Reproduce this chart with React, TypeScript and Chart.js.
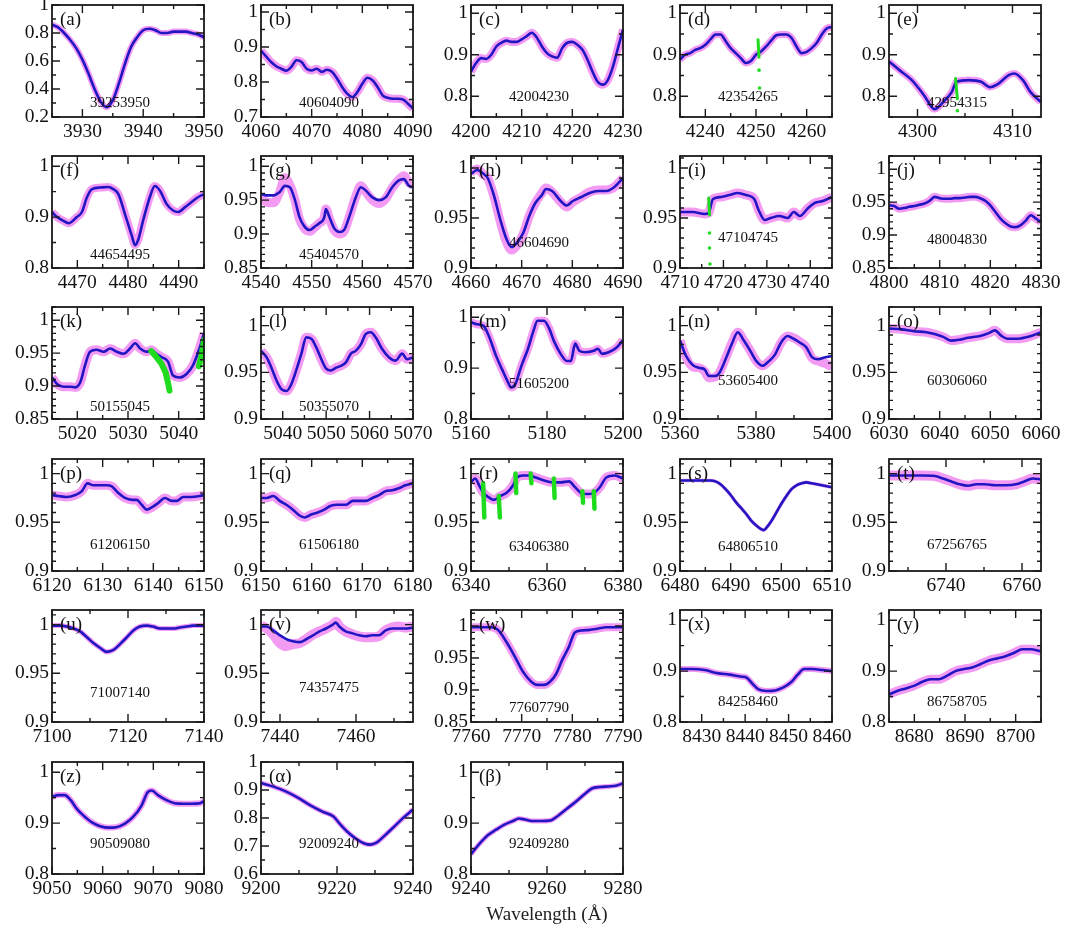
import React, { useEffect, useRef } from 'react';
import { Chart, registerables } from 'chart.js';

Chart.register(...registerables);

// ---------------- data (wavelength in Å, normalised flux) ----------------
const wlA = [3925, 3926, 3927, 3928, 3929, 3930, 3931, 3932, 3933, 3934, 3935, 3936, 3937, 3938, 3939, 3940, 3941, 3942, 3943, 3944, 3945, 3946, 3947, 3948, 3949, 3950];
const fluxA = [0.86, 0.84, 0.8, 0.75, 0.69, 0.61, 0.51, 0.4, 0.31, 0.27, 0.32, 0.44, 0.58, 0.7, 0.77, 0.82, 0.83, 0.82, 0.8, 0.8, 0.81, 0.81, 0.81, 0.8, 0.79, 0.77];

const wlB = [4060, 4061, 4062, 4063, 4064, 4065, 4066, 4067, 4068, 4069, 4070, 4071, 4072, 4073, 4074, 4075, 4076, 4077, 4078, 4079, 4080, 4081, 4082, 4083, 4084, 4085, 4086, 4087, 4088, 4089, 4090];
const fluxB = [0.89, 0.873, 0.857, 0.845, 0.838, 0.832, 0.843, 0.862, 0.857, 0.838, 0.833, 0.838, 0.829, 0.835, 0.829, 0.81, 0.786, 0.767, 0.757, 0.771, 0.795, 0.812, 0.805, 0.786, 0.762, 0.755, 0.752, 0.752, 0.75, 0.738, 0.724];

const wlC = [4200, 4201, 4202, 4203, 4204, 4205, 4206, 4207, 4208, 4209, 4210, 4211, 4212, 4213, 4214, 4215, 4216, 4217, 4218, 4219, 4220, 4221, 4222, 4223, 4224, 4225, 4226, 4227, 4228, 4229, 4230];
const fluxC = [0.859, 0.88, 0.892, 0.89, 0.9, 0.92, 0.929, 0.934, 0.931, 0.931, 0.937, 0.945, 0.953, 0.941, 0.92, 0.904, 0.896, 0.893, 0.916, 0.929, 0.931, 0.924, 0.912, 0.888, 0.859, 0.835, 0.828, 0.839, 0.871, 0.916, 0.961];

const wlD = [4235, 4236, 4237, 4238, 4239, 4240, 4241, 4242, 4243, 4244, 4245, 4246, 4247, 4248, 4249, 4250, 4251, 4252, 4253, 4254, 4255, 4256, 4257, 4258, 4259, 4260, 4261, 4262, 4263, 4264, 4265];
const fluxD = [0.888, 0.9, 0.904, 0.912, 0.916, 0.924, 0.937, 0.949, 0.949, 0.933, 0.916, 0.904, 0.892, 0.88, 0.885, 0.9, 0.908, 0.92, 0.934, 0.947, 0.949, 0.949, 0.941, 0.92, 0.904, 0.907, 0.916, 0.929, 0.949, 0.964, 0.967];
const maskSegXD = [4250.4, 4250.6];
const maskSegYD = [0.936, 0.894];
const maskDotXD = [4250.6, 4250.7];
const maskDotYD = [0.863, 0.82];

const wlE = [4297, 4298.1, 4299.4, 4300.7, 4301.8, 4302.7, 4303.6, 4304.1, 4305.4, 4306.7, 4307.6, 4308.5, 4309.6, 4310.2, 4311.1, 4311.9, 4313];
const fluxE = [0.884, 0.863, 0.839, 0.802, 0.769, 0.786, 0.81, 0.835, 0.839, 0.835, 0.822, 0.83, 0.851, 0.855, 0.839, 0.81, 0.786];
const maskSegXE = [4304.0, 4304.2];
const maskSegYE = [0.843, 0.794];
const maskDotXE = [4304.2];
const maskDotYE = [0.765];

const wlF = [4465, 4466, 4467, 4468.3, 4469.9, 4470.9, 4471.9, 4472.9, 4474.5, 4476.1, 4477.1, 4478.1, 4479.4, 4480.7, 4481.4, 4482, 4483, 4484.3, 4485.3, 4486.3, 4487.6, 4488.9, 4489.9, 4491.2, 4492.5, 4493.8, 4495];
const fluxF = [0.91, 0.9, 0.894, 0.888, 0.9, 0.91, 0.939, 0.955, 0.958, 0.959, 0.955, 0.945, 0.906, 0.865, 0.845, 0.855, 0.894, 0.939, 0.961, 0.952, 0.926, 0.913, 0.91, 0.919, 0.929, 0.939, 0.945];

const wlG = [4540, 4541.1, 4542.4, 4543.7, 4544.7, 4545.7, 4546.7, 4547.6, 4548.6, 4549.6, 4550.6, 4551.5, 4552.5, 4552.8, 4553.5, 4554.5, 4555.5, 4556.4, 4557.4, 4558.7, 4559.7, 4560.7, 4562, 4563.3, 4564.6, 4565.9, 4567.2, 4568.2, 4569.2, 4570];
const fluxG = [0.959, 0.957, 0.957, 0.962, 0.971, 0.969, 0.95, 0.925, 0.911, 0.906, 0.911, 0.916, 0.925, 0.937, 0.925, 0.908, 0.903, 0.906, 0.925, 0.954, 0.969, 0.964, 0.954, 0.95, 0.954, 0.969, 0.979, 0.981, 0.971, 0.969];
const obsG = [0.955, 0.947, 0.946, 0.962, 0.983, 0.972, 0.95, 0.922, 0.908, 0.904, 0.91, 0.916, 0.925, 0.937, 0.923, 0.905, 0.9, 0.904, 0.925, 0.955, 0.971, 0.962, 0.95, 0.945, 0.952, 0.968, 0.98, 0.986, 0.976, 0.972];

const wlH = [4660, 4661.2, 4662.5, 4663.3, 4664.5, 4665.8, 4667, 4668, 4669, 4670.3, 4671.5, 4672.7, 4674, 4674.8, 4676, 4677.7, 4678.9, 4680.1, 4681.8, 4683.4, 4685.1, 4686.7, 4688.3, 4690];
const fluxH = [0.994, 0.998, 0.994, 0.99, 0.973, 0.948, 0.929, 0.921, 0.925, 0.935, 0.952, 0.965, 0.973, 0.979, 0.977, 0.967, 0.9625, 0.967, 0.971, 0.975, 0.977, 0.977, 0.981, 0.99];
const obsH = [0.996, 0.999, 0.993, 0.99, 0.972, 0.946, 0.926, 0.918, 0.922, 0.934, 0.952, 0.965, 0.975, 0.98, 0.976, 0.966, 0.961, 0.966, 0.971, 0.976, 0.978, 0.978, 0.981, 0.99];

const wlI = [4710, 4712.9, 4715.7, 4716.6, 4717.6, 4719.5, 4721.4, 4723.3, 4725.2, 4727.1, 4728.1, 4729.5, 4730.9, 4732.9, 4734.8, 4736.2, 4737.6, 4739.5, 4741, 4742.9, 4745];
const fluxI = [0.956, 0.956, 0.954, 0.955, 0.969, 0.971, 0.973, 0.975, 0.973, 0.969, 0.958, 0.948, 0.95, 0.952, 0.95, 0.956, 0.952, 0.96, 0.965, 0.967, 0.971];
const maskSegXI = [4716.6, 4716.8];
const maskSegYI = [0.97, 0.953];
const maskDotXI = [4716.8, 4716.8, 4716.9];
const maskDotYI = [0.935, 0.92, 0.904];

const wlJ = [4800, 4801, 4802, 4803, 4804, 4805, 4806, 4807, 4808, 4809, 4810, 4811, 4812, 4813, 4814, 4815, 4816, 4817, 4818, 4819, 4820, 4821, 4822, 4823, 4824, 4825, 4826, 4827, 4828, 4829, 4830];
const fluxJ = [0.945, 0.944, 0.94, 0.941, 0.943, 0.944, 0.946, 0.948, 0.952, 0.958, 0.956, 0.955, 0.955, 0.956, 0.956, 0.957, 0.958, 0.958, 0.956, 0.952, 0.945, 0.935, 0.925, 0.918, 0.913, 0.912, 0.915, 0.922, 0.93, 0.925, 0.92];

const wlK = [5015, 5016, 5017.3, 5018.6, 5019.6, 5020.6, 5021.5, 5022.5, 5023.8, 5025.2, 5026.5, 5027.8, 5029.1, 5030.4, 5031.4, 5032.4, 5033.7, 5034.6, 5035.6, 5036.6, 5037.9, 5038.9, 5040.2, 5041.5, 5042.8, 5044.1, 5045];
const fluxK = [0.913, 0.903, 0.899, 0.899, 0.898, 0.906, 0.931, 0.952, 0.955, 0.952, 0.957, 0.952, 0.949, 0.957, 0.965, 0.957, 0.952, 0.955, 0.949, 0.944, 0.937, 0.916, 0.913, 0.918, 0.931, 0.957, 0.98];
const maskSegXK = [5034.6, 5035.6, 5035.6, 5036.6, 5036.6, 5037.4, 5037.4, 5037.9, 5037.9, 5038.2, 5044.0, 5044.6, 5044.6, 5045.0];
const maskSegYK = [0.953, 0.944, 0.944, 0.934, 0.934, 0.921, 0.921, 0.905, 0.905, 0.893, 0.93, 0.95, 0.95, 0.97];

const wlL = [5035, 5036.3, 5037.4, 5038.6, 5039.7, 5040.9, 5042, 5043.1, 5044.3, 5045.4, 5046.6, 5047.7, 5048.9, 5050, 5051.1, 5052.3, 5053.4, 5054.6, 5055.7, 5056.8, 5058, 5059.1, 5060.3, 5061.4, 5062.9, 5064.5, 5066, 5067.5, 5068.6, 5070];
const fluxL = [0.973, 0.966, 0.955, 0.941, 0.932, 0.93, 0.9375, 0.952, 0.97, 0.9875, 0.986, 0.977, 0.964, 0.954, 0.952, 0.955, 0.957, 0.961, 0.97, 0.973, 0.98, 0.991, 0.993, 0.9875, 0.975, 0.966, 0.9625, 0.97, 0.964, 0.966];

const wlM = [5160, 5161.6, 5163.3, 5164.9, 5166.6, 5168.2, 5169.5, 5170.6, 5171.7, 5173.2, 5175, 5176.4, 5177.5, 5179.2, 5180.5, 5181.9, 5183.6, 5185.2, 5186.3, 5187.4, 5188.5, 5190.1, 5192.3, 5193.4, 5194.5, 5196.2, 5198.4, 5200];
const fluxM = [0.99, 0.986, 0.983, 0.959, 0.924, 0.897, 0.876, 0.862, 0.869, 0.903, 0.938, 0.972, 0.993, 0.993, 0.979, 0.952, 0.928, 0.914, 0.914, 0.948, 0.934, 0.931, 0.934, 0.938, 0.928, 0.931, 0.941, 0.955];

const wlN = [5360, 5361.6, 5363.3, 5364.9, 5366.5, 5367.6, 5369.2, 5370.3, 5372, 5373.6, 5375.2, 5376.8, 5378.5, 5380.1, 5381.7, 5383.4, 5385, 5386.6, 5388.3, 5389.9, 5391.5, 5393.2, 5394.8, 5396.4, 5398, 5400];
const fluxN = [0.984, 0.9675, 0.958, 0.955, 0.953, 0.946, 0.946, 0.949, 0.964, 0.98, 0.993, 0.984, 0.973, 0.962, 0.957, 0.962, 0.969, 0.982, 0.989, 0.986, 0.982, 0.977, 0.966, 0.964, 0.966, 0.9675];
const obsN = [0.984, 0.966, 0.956, 0.955, 0.951, 0.944, 0.945, 0.949, 0.965, 0.981, 0.993, 0.984, 0.973, 0.962, 0.957, 0.962, 0.969, 0.982, 0.989, 0.987, 0.983, 0.977, 0.965, 0.962, 0.96, 0.956];

const wlO = [6030, 6032.5, 6034.9, 6037.4, 6039, 6040.7, 6042.3, 6043.9, 6045.6, 6048, 6049.7, 6050.9, 6052.2, 6053.4, 6055.5, 6057.5, 6060];
const fluxO = [0.997, 0.996, 0.994, 0.993, 0.991, 0.988, 0.984, 0.985, 0.987, 0.989, 0.992, 0.995, 0.989, 0.986, 0.986, 0.988, 0.993];

const wlP = [6120, 6121.3, 6122.9, 6124.6, 6125.9, 6127, 6128.2, 6129.5, 6130.8, 6131.8, 6133.1, 6134.4, 6135.8, 6136.7, 6137.7, 6138.7, 6139.6, 6141, 6142.3, 6143.6, 6144.6, 6145.9, 6147.5, 6149.1, 6150];
const fluxP = [0.978, 0.977, 0.976, 0.978, 0.982, 0.99, 0.988, 0.988, 0.988, 0.987, 0.98, 0.975, 0.973, 0.973, 0.968, 0.963, 0.965, 0.97, 0.975, 0.972, 0.972, 0.976, 0.976, 0.977, 0.978];

const wlQ = [6150, 6151.1, 6152.4, 6153.7, 6155, 6156.3, 6157.6, 6158.6, 6159.9, 6161.2, 6162.5, 6163.8, 6165.1, 6166.8, 6168.1, 6169.4, 6170.7, 6172, 6173.3, 6174.6, 6175.9, 6177.2, 6178.5, 6180];
const fluxQ = [0.975, 0.975, 0.977, 0.972, 0.968, 0.963, 0.957, 0.955, 0.958, 0.96, 0.963, 0.967, 0.968, 0.968, 0.972, 0.972, 0.972, 0.975, 0.978, 0.982, 0.983, 0.985, 0.988, 0.99];

const wlR = [6340, 6341.1, 6342.2, 6343.3, 6344.9, 6346, 6347.7, 6349.3, 6351, 6352.1, 6353.7, 6355.3, 6357, 6359.2, 6361.4, 6363.6, 6365.8, 6367.4, 6369, 6370.7, 6372.3, 6373.9, 6375.6, 6377.8, 6380];
const fluxR = [0.991, 0.995, 0.9875, 0.98, 0.975, 0.973, 0.977, 0.98, 0.9875, 0.996, 0.998, 0.998, 0.996, 0.993, 0.991, 0.991, 0.992, 0.986, 0.98, 0.979, 0.98, 0.986, 0.996, 0.998, 0.995];
const maskSegXR = [6343.2, 6343.5, 6347.3, 6347.6, 6351.7, 6351.9, 6355.7, 6355.9, 6361.8, 6362.0, 6369.3, 6369.5, 6372.3, 6372.5];
const maskSegYR = [0.99, 0.955, 0.977, 0.955, 1.0, 0.98, 1.0, 0.99, 0.995, 0.975, 0.982, 0.97, 0.982, 0.964];

const wlS = [6480, 6482, 6484, 6486, 6487, 6488, 6489, 6490, 6491, 6492, 6493, 6494, 6495, 6496, 6496.5, 6497, 6498, 6499, 6500, 6501, 6502, 6503, 6504, 6505, 6506, 6507, 6508, 6509, 6510];
const fluxS = [0.993, 0.993, 0.993, 0.993, 0.992, 0.989, 0.984, 0.978, 0.971, 0.965, 0.959, 0.952, 0.947, 0.943, 0.942, 0.944, 0.951, 0.96, 0.969, 0.977, 0.984, 0.988, 0.99, 0.991, 0.99, 0.989, 0.988, 0.987, 0.986];

const wlT = [6725, 6729.4, 6733.8, 6737.1, 6739.2, 6741.4, 6743.6, 6745.8, 6748, 6750.2, 6752.9, 6755.7, 6758.4, 6760.6, 6762.8, 6765];
const fluxT = [0.998, 0.998, 0.998, 0.9975, 0.995, 0.992, 0.989, 0.9875, 0.989, 0.989, 0.988, 0.988, 0.989, 0.992, 0.995, 0.994];

const wlU = [7100, 7102.2, 7103.9, 7105.7, 7107.4, 7109.2, 7110.9, 7112.7, 7114.4, 7116.2, 7117.9, 7119.7, 7121.4, 7123.1, 7124.9, 7126.6, 7128.4, 7130.1, 7131.9, 7133.6, 7135.4, 7137.1, 7140];
const fluxU = [0.999, 0.999, 0.998, 0.996, 0.993, 0.987, 0.981, 0.976, 0.972, 0.974, 0.98, 0.987, 0.994, 0.998, 0.999, 0.998, 0.996, 0.996, 0.996, 0.997, 0.998, 0.999, 0.999];

const wlV = [7435, 7436.5, 7438.2, 7440, 7441.7, 7443.4, 7445.2, 7446.9, 7448.7, 7450.4, 7452.1, 7453.9, 7454.7, 7455.6, 7457.3, 7459.1, 7460.8, 7462.6, 7464.3, 7466, 7467.8, 7469.5, 7471.3, 7473, 7475];
const fluxV = [0.998, 0.998, 0.994, 0.989, 0.985, 0.983, 0.982, 0.985, 0.989, 0.993, 0.996, 1.0, 1.002, 0.998, 0.993, 0.991, 0.989, 0.988, 0.989, 0.989, 0.994, 0.996, 0.996, 0.996, 0.997];
const obsV = [0.999, 0.996, 0.99, 0.981, 0.978, 0.98, 0.981, 0.985, 0.99, 0.993, 0.996, 1.0, 1.003, 0.998, 0.993, 0.99, 0.988, 0.987, 0.987, 0.988, 0.994, 0.997, 0.998, 0.997, 0.998];

const wlW = [7760, 7762, 7764, 7765.3, 7767, 7768.6, 7770.3, 7771.9, 7773.1, 7774.4, 7775.6, 7776.8, 7778, 7779.3, 7780.5, 7781.8, 7783.4, 7785.1, 7786.7, 7788.3, 7790];
const fluxW = [0.998, 0.998, 0.998, 0.994, 0.975, 0.953, 0.928, 0.913, 0.908, 0.908, 0.913, 0.925, 0.947, 0.967, 0.99, 0.993, 0.994, 0.996, 0.998, 0.998, 0.998];

const wlX = [8425, 8427.9, 8430.7, 8433.6, 8436.4, 8439.3, 8440.2, 8441.7, 8443.1, 8445, 8446.9, 8448.8, 8450.7, 8452.1, 8453.6, 8455.5, 8457.9, 8460];
const fluxX = [0.904, 0.904, 0.902, 0.896, 0.893, 0.889, 0.888, 0.875, 0.864, 0.861, 0.862, 0.868, 0.879, 0.893, 0.904, 0.904, 0.902, 0.9];

const wlY = [8675, 8676.6, 8678.3, 8679.9, 8681.6, 8683.2, 8684.9, 8686.5, 8688.1, 8689.8, 8691.4, 8693.1, 8694.7, 8696.4, 8698, 8699.7, 8701.3, 8702.9, 8705];
const fluxY = [0.854, 0.861, 0.866, 0.871, 0.879, 0.884, 0.884, 0.891, 0.9, 0.904, 0.907, 0.914, 0.921, 0.925, 0.929, 0.936, 0.943, 0.943, 0.939];

const wlZ = [9050, 9051.2, 9052.5, 9053.7, 9054.9, 9056.2, 9057.8, 9059.5, 9061.1, 9062.7, 9064.4, 9066, 9067.7, 9068.9, 9069.7, 9070.9, 9072.6, 9074.2, 9075.9, 9077.5, 9079.2, 9080];
const fluxZ = [0.951, 0.955, 0.955, 0.945, 0.928, 0.915, 0.902, 0.894, 0.891, 0.892, 0.899, 0.912, 0.935, 0.961, 0.964, 0.955, 0.945, 0.939, 0.938, 0.938, 0.939, 0.943];

const wlAlpha = [9200, 9203.3, 9206.5, 9209.8, 9213, 9216.3, 9219, 9220.7, 9222.8, 9225, 9227.2, 9228.8, 9230.4, 9232.6, 9234.8, 9237, 9240];
const fluxAlpha = [0.925, 0.912, 0.895, 0.872, 0.845, 0.822, 0.806, 0.78, 0.75, 0.726, 0.709, 0.705, 0.712, 0.738, 0.766, 0.795, 0.83];

const wlBeta = [9240, 9242.2, 9244.4, 9246.6, 9248.8, 9251, 9252.6, 9254.2, 9256.4, 9258.6, 9260.8, 9263, 9265.2, 9267.4, 9269.6, 9271.8, 9274, 9276.2, 9278.4, 9280];
const fluxBeta = [0.839, 0.859, 0.876, 0.887, 0.897, 0.904, 0.909, 0.907, 0.904, 0.904, 0.905, 0.915, 0.928, 0.941, 0.955, 0.968, 0.971, 0.972, 0.974, 0.978];

// tick label values
const ticksXa = [3930, 3940, 3950];
const ticksXb = [4060, 4070, 4080, 4090];
const ticksXc = [4200, 4210, 4220, 4230];
const ticksXd = [4240, 4250, 4260];
const ticksXe = [4300, 4310];
const ticksXf = [4470, 4480, 4490];
const ticksXg = [4540, 4550, 4560, 4570];
const ticksXh = [4660, 4670, 4680, 4690];
const ticksXi = [4710, 4720, 4730, 4740];
const ticksXj = [4800, 4810, 4820, 4830];
const ticksXk = [5020, 5030, 5040];
const ticksXl = [5040, 5050, 5060, 5070];
const ticksXm = [5160, 5180, 5200];
const ticksXn = [5360, 5380, 5400];
const ticksXo = [6030, 6040, 6050, 6060];
const ticksXp = [6120, 6130, 6140, 6150];
const ticksXq = [6150, 6160, 6170, 6180];
const ticksXr = [6340, 6360, 6380];
const ticksXs = [6480, 6490, 6500, 6510];
const ticksXt = [6740, 6760];
const ticksXu = [7100, 7120, 7140];
const ticksXv = [7440, 7460];
const ticksXw = [7760, 7770, 7780, 7790];
const ticksXx = [8430, 8440, 8450, 8460];
const ticksXy = [8680, 8690, 8700];
const ticksXz = [9050, 9060, 9070, 9080];
const ticksXalpha = [9200, 9220, 9240];
const ticksXbeta = [9240, 9260, 9280];

const ticksY02 = [0.2, 0.4, 0.6, 0.8, 1];
const ticksY07 = [0.7, 0.8, 0.9, 1];
const ticksY08 = [0.8, 0.9, 1];
const ticksY085 = [0.85, 0.9, 0.95, 1];
const ticksY09 = [0.9, 0.95, 1];
const ticksY06 = [0.6, 0.7, 0.8, 0.9, 1];

const panelTags = ['(a)', '(b)', '(c)', '(d)', '(e)', '(f)', '(g)', '(h)', '(i)', '(j)', '(k)', '(l)', '(m)', '(n)', '(o)', '(p)', '(q)', '(r)', '(s)', '(t)', '(u)', '(v)', '(w)', '(x)', '(y)', '(z)', '(α)', '(β)'];
const rangeNames = ['39253950', '40604090', '42004230', '42354265', '42954315', '44654495', '45404570', '46604690', '47104745', '48004830', '50155045', '50355070', '51605200', '53605400', '60306060', '61206150', '61506180', '63406380', '64806510', '67256765', '71007140', '74357475', '77607790', '84258460', '86758705', '90509080', '92009240', '92409280'];

// ---------------- layout / style ----------------
const COL_X = [52, 261, 471, 680, 889];
const ROW_Y = [5, 156, 307, 459, 610, 762];
const PW = 152;
const PH = 112;
const PAD_L = 62;
const PAD_R = 28;
const PAD_T = 14;
const PAD_B = 34;
const FONT = '"Liberation Serif", "Times New Roman", serif';
const BLUE = '#2216c2';
const MAGENTA = 'rgba(238,108,238,0.68)';
const GREEN = '#1fdc1f';
const FRAME = '#1a1a1a';

interface Panel {
  wl: number[]; flux: number[]; obs?: number[];
  x: [number, number]; y: [number, number];
  xt: number[]; yt: number[]; xm: number; ym: number;
  band: number; dy: number;
  gx?: number[]; gy?: number[]; gw?: number;
  dx?: number[]; dyy?: number[];
  title?: string;
}

const PANELS: Panel[] = [
  { wl: wlA, flux: fluxA, x: [3925, 3950], y: [0.2, 1.0], xt: ticksXa, yt: ticksY02, xm: 5, ym: 0.1, band: 6, dy: 98 },
  { wl: wlB, flux: fluxB, x: [4060, 4090], y: [0.7, 1.02], xt: ticksXb, yt: ticksY07, xm: 5, ym: 0.05, band: 8, dy: 98 },
  { wl: wlC, flux: fluxC, x: [4200, 4230], y: [0.75, 1.02], xt: ticksXc, yt: ticksY08, xm: 5, ym: 0.05, band: 8, dy: 92 },
  { wl: wlD, flux: fluxD, x: [4235, 4265], y: [0.75, 1.02], xt: ticksXd, yt: ticksY08, xm: 5, ym: 0.05, band: 7, dy: 92, gx: maskSegXD, gy: maskSegYD, gw: 3, dx: maskDotXD, dyy: maskDotYD },
  { wl: wlE, flux: fluxE, x: [4297, 4313], y: [0.75, 1.02], xt: ticksXe, yt: ticksY08, xm: 5, ym: 0.05, band: 7, dy: 98, gx: maskSegXE, gy: maskSegYE, gw: 3, dx: maskDotXE, dyy: maskDotYE },
  { wl: wlF, flux: fluxF, x: [4465, 4495], y: [0.8, 1.02], xt: ticksXf, yt: ticksY08, xm: 5, ym: 0.05, band: 8, dy: 99 },
  { wl: wlG, flux: fluxG, obs: obsG, x: [4540, 4570], y: [0.85, 1.015], xt: ticksXg, yt: ticksY085, xm: 5, ym: 0.01, band: 9, dy: 99 },
  { wl: wlH, flux: fluxH, obs: obsH, x: [4660, 4690], y: [0.9, 1.012], xt: ticksXh, yt: ticksY09, xm: 5, ym: 0.01, band: 9, dy: 87 },
  { wl: wlI, flux: fluxI, x: [4710, 4745], y: [0.9, 1.012], xt: ticksXi, yt: ticksY09, xm: 5, ym: 0.01, band: 9, dy: 82, gx: maskSegXI, gy: maskSegYI, gw: 3, dx: maskDotXI, dyy: maskDotYI },
  { wl: wlJ, flux: fluxJ, x: [4800, 4830], y: [0.85, 1.02], xt: ticksXj, yt: ticksY085, xm: 5, ym: 0.01, band: 8, dy: 84 },
  { wl: wlK, flux: fluxK, x: [5015, 5045], y: [0.85, 1.02], xt: ticksXk, yt: ticksY085, xm: 5, ym: 0.01, band: 9, dy: 100, gx: maskSegXK, gy: maskSegYK, gw: 6 },
  { wl: wlL, flux: fluxL, x: [5035, 5070], y: [0.9, 1.02], xt: ticksXl, yt: ticksY09, xm: 5, ym: 0.01, band: 9, dy: 100 },
  { wl: wlM, flux: fluxM, x: [5160, 5200], y: [0.8, 1.02], xt: ticksXm, yt: ticksY08, xm: 10, ym: 0.05, band: 8, dy: 77 },
  { wl: wlN, flux: fluxN, obs: obsN, x: [5360, 5400], y: [0.9, 1.02], xt: ticksXn, yt: ticksY09, xm: 10, ym: 0.01, band: 9, dy: 74 },
  { wl: wlO, flux: fluxO, x: [6030, 6060], y: [0.9, 1.02], xt: ticksXo, yt: ticksY09, xm: 5, ym: 0.01, band: 9, dy: 74 },
  { wl: wlP, flux: fluxP, x: [6120, 6150], y: [0.9, 1.015], xt: ticksXp, yt: ticksY09, xm: 5, ym: 0.01, band: 9, dy: 86 },
  { wl: wlQ, flux: fluxQ, x: [6150, 6180], y: [0.9, 1.015], xt: ticksXq, yt: ticksY09, xm: 5, ym: 0.01, band: 9, dy: 86 },
  { wl: wlR, flux: fluxR, x: [6340, 6380], y: [0.9, 1.015], xt: ticksXr, yt: ticksY09, xm: 10, ym: 0.01, band: 9, dy: 88, gx: maskSegXR, gy: maskSegYR, gw: 4.5 },
  { wl: wlS, flux: fluxS, x: [6480, 6510], y: [0.9, 1.015], xt: ticksXs, yt: ticksY09, xm: 5, ym: 0.01, band: 3.5, dy: 88 },
  { wl: wlT, flux: fluxT, x: [6725, 6765], y: [0.9, 1.015], xt: ticksXt, yt: ticksY09, xm: 10, ym: 0.01, band: 10, dy: 86 },
  { wl: wlU, flux: fluxU, x: [7100, 7140], y: [0.9, 1.015], xt: ticksXu, yt: ticksY09, xm: 10, ym: 0.01, band: 5, dy: 83 },
  { wl: wlV, flux: fluxV, obs: obsV, x: [7435, 7475], y: [0.9, 1.015], xt: ticksXv, yt: ticksY09, xm: 10, ym: 0.01, band: 10, dy: 78 },
  { wl: wlW, flux: fluxW, x: [7760, 7790], y: [0.85, 1.025], xt: ticksXw, yt: ticksY085, xm: 5, ym: 0.01, band: 8, dy: 98 },
  { wl: wlX, flux: fluxX, x: [8425, 8460], y: [0.8, 1.02], xt: ticksXx, yt: ticksY08, xm: 5, ym: 0.05, band: 6, dy: 92 },
  { wl: wlY, flux: fluxY, x: [8675, 8705], y: [0.8, 1.02], xt: ticksXy, yt: ticksY08, xm: 5, ym: 0.05, band: 9, dy: 92 },
  { wl: wlZ, flux: fluxZ, x: [9050, 9080], y: [0.8, 1.02], xt: ticksXz, yt: ticksY08, xm: 5, ym: 0.05, band: 6, dy: 82 },
  { wl: wlAlpha, flux: fluxAlpha, x: [9200, 9240], y: [0.6, 1.0], xt: ticksXalpha, yt: ticksY06, xm: 10, ym: 0.05, band: 5, dy: 82 },
  { wl: wlBeta, flux: fluxBeta, x: [9240, 9280], y: [0.8, 1.02], xt: ticksXbeta, yt: ticksY08, xm: 10, ym: 0.05, band: 5, dy: 82, title: 'Wavelength (Å)' },
];

const fmtY = (v: number) => String(Math.round(v * 1000) / 1000);

function PanelChart({ p, idx }: { p: Panel; idx: number }) {
  const ref = useRef<HTMLCanvasElement>(null);
  const col = idx % 5;
  const row = Math.floor(idx / 5);
  const padB = p.title ? 54 : PAD_B;
  const w = PAD_L + PW + PAD_R;
  const h = PAD_T + PH + padB;

  useEffect(() => {
    const canvas = ref.current;
    if (!canvas) return;
    const pts = p.wl.map((x, i) => ({ x, y: p.flux[i] }));
    const obsVals = p.obs ?? p.flux;
    const obsPts = p.wl.map((x, i) => ({ x, y: obsVals[i] }));
    const datasets: any[] = [];
    if (p.dx && p.dyy) {
      datasets.push({
        data: p.dx.map((x, i) => ({ x, y: p.dyy![i] })),
        showLine: false, pointRadius: 1.8, pointBackgroundColor: GREEN, pointBorderWidth: 0, clip: 1,
      });
    }
    if (p.gx && p.gy) {
      const g: any[] = [];
      for (let i = 0; i + 1 < p.gx.length; i += 2) {
        g.push({ x: p.gx[i], y: p.gy[i] }, { x: p.gx[i + 1], y: p.gy[i + 1] }, { x: p.gx[i + 1], y: null });
      }
      datasets.push({
        data: g, borderColor: GREEN, borderWidth: p.gw ?? 3, pointRadius: 0, spanGaps: false,
        borderCapStyle: 'round', borderJoinStyle: 'round', tension: 0, clip: 1,
      });
    }
    datasets.push({
      data: pts, borderColor: BLUE, borderWidth: 2.6, pointRadius: 0,
      cubicInterpolationMode: 'monotone', borderJoinStyle: 'round', clip: 1,
    });
    datasets.push({
      data: obsPts, borderColor: MAGENTA, borderWidth: p.band, pointRadius: 0,
      cubicInterpolationMode: 'monotone', borderJoinStyle: 'round', borderCapStyle: 'butt', clip: 1,
    });

    const tag = panelTags[idx];
    const rname = rangeNames[idx];

    const framePlugin = {
      id: 'panelFrame',
      afterDatasetsDraw(chart: any) {
        const ctx: CanvasRenderingContext2D = chart.ctx;
        const a = chart.chartArea;
        const xs = chart.scales.x;
        const ys = chart.scales.y;
        ctx.save();
        ctx.strokeStyle = FRAME;
        ctx.lineWidth = 1.4;
        ctx.beginPath();
        const isMajor = (list: number[], v: number, eps: number) => list.some((t) => Math.abs(t - v) < eps);
        const k0 = Math.ceil(p.x[0] / p.xm - 1e-6);
        const k1 = Math.floor(p.x[1] / p.xm + 1e-6);
        for (let k = k0; k <= k1; k++) {
          const v = k * p.xm;
          const px = xs.getPixelForValue(v);
          const L = isMajor(p.xt, v, 1e-6) ? 8 : 4;
          ctx.moveTo(px, a.bottom); ctx.lineTo(px, a.bottom - L);
          ctx.moveTo(px, a.top); ctx.lineTo(px, a.top + L);
        }
        const j0 = Math.ceil(p.y[0] / p.ym - 1e-6);
        const j1 = Math.floor(p.y[1] / p.ym + 1e-6);
        for (let j = j0; j <= j1; j++) {
          const v = j * p.ym;
          const py = ys.getPixelForValue(v);
          const L = isMajor(p.yt, v, 1e-6) ? 8 : 4;
          ctx.moveTo(a.left, py); ctx.lineTo(a.left + L, py);
          ctx.moveTo(a.right, py); ctx.lineTo(a.right - L, py);
        }
        ctx.stroke();
        ctx.lineWidth = 1.8;
        ctx.strokeRect(a.left, a.top, a.right - a.left, a.bottom - a.top);
        ctx.fillStyle = '#111';
        ctx.font = `19px ${FONT}`;
        ctx.textBaseline = 'middle';
        ctx.textAlign = 'left';
        ctx.fillText(tag, a.left + 8, a.top + 15);
        ctx.font = `15px ${FONT}`;
        ctx.textAlign = 'center';
        ctx.fillText(rname, a.left + 68, a.top + p.dy);
        ctx.restore();
      },
    };

    const chart = new Chart(canvas, {
      type: 'line',
      data: { datasets },
      options: {
        animation: false,
        responsive: false,
        maintainAspectRatio: false,
        events: [],
        layout: { padding: { left: 0, right: PAD_R, top: PAD_T, bottom: 0 } },
        plugins: { legend: { display: false }, tooltip: { enabled: false } },
        scales: {
          x: {
            type: 'linear',
            min: p.x[0],
            max: p.x[1],
            afterBuildTicks: (s: any) => { s.ticks = p.xt.map((v) => ({ value: v })); },
            afterFit: (s: any) => { s.height = padB; s.paddingLeft = 0; s.paddingRight = 0; },
            grid: { display: false, drawTicks: false },
            border: { display: false },
            ticks: {
              autoSkip: false, maxRotation: 0, minRotation: 0, padding: 3, color: '#111',
              font: { family: FONT, size: 19.5 },
              callback: (v: any) => String(Math.round(Number(v))),
            },
            title: p.title
              ? { display: true, text: p.title, color: '#222', font: { family: FONT, size: 19 }, padding: { top: 2, bottom: 2 } }
              : { display: false },
          },
          y: {
            type: 'linear',
            min: p.y[0],
            max: p.y[1],
            afterBuildTicks: (s: any) => { s.ticks = p.yt.map((v) => ({ value: v })); },
            afterFit: (s: any) => { s.width = PAD_L; s.paddingTop = 0; s.paddingBottom = 0; },
            grid: { display: false, drawTicks: false },
            border: { display: false },
            ticks: {
              autoSkip: false, padding: 3, color: '#111',
              font: { family: FONT, size: 19.5 },
              callback: (v: any) => fmtY(Number(v)),
            },
          },
        },
      } as any,
      plugins: [framePlugin],
    });
    return () => chart.destroy();
  }, []);

  return (
    <canvas
      ref={ref}
      width={w}
      height={h}
      style={{ position: 'absolute', left: COL_X[col] - PAD_L, top: ROW_Y[row] - PAD_T, width: w, height: h }}
    />
  );
}

export default function App() {
  return (
    <div style={{ position: 'absolute', left: 0, top: 0, width: 1067, height: 938, background: '#fff', overflow: 'hidden' }}>
      {PANELS.map((p, i) => (
        <PanelChart key={i} p={p} idx={i} />
      ))}
    </div>
  );
}
